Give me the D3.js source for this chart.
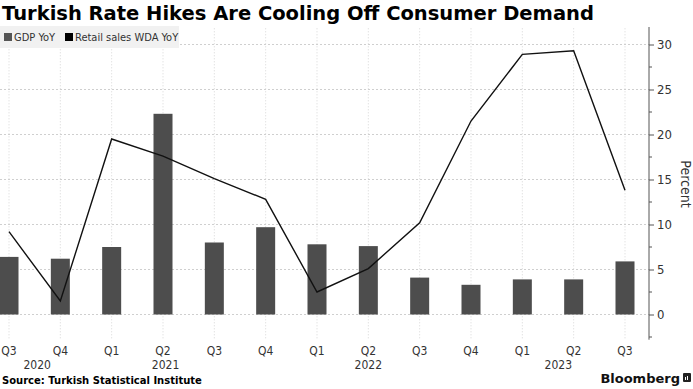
<!DOCTYPE html>
<html><head><meta charset="utf-8">
<script src="https://cdn.jsdelivr.net/npm/d3@7/dist/d3.min.js"></script>
<style>body{margin:0;background:#fff}svg{display:block}</style>
</head><body>
<svg id="chart" width="693" height="389"></svg>
<script>
const quarters = ["Q3","Q4","Q1","Q2","Q3","Q4","Q1","Q2","Q3","Q4","Q1","Q2","Q3"];
const gdpYoY = [6.4, 6.2, 7.5, 22.3, 8.0, 9.7, 7.8, 7.6, 4.1, 3.3, 3.9, 3.9, 5.9];
const retailYoY = [9.2, 1.5, 19.5, 17.6, 15.1, 12.8, 2.5, 5.1, 10.2, 21.5, 28.9, 29.3, 13.8];
const years = ["2020","2021","2022","2023"];
const yearPos = [0.55, 3.05, 7.0, 10.7];
const yTicks = [0,5,10,15,20,25,30];
const yMinor = [-2.5,2.5,7.5,12.5,17.5,22.5,27.5];

const svg = d3.select("#chart");
const font = "'DejaVu Sans Condensed','DejaVu Sans',sans-serif";
const x = d3.scaleLinear().domain([0, quarters.length-1]).range([9, 625]);
const y = d3.scaleLinear().domain([-2.8, 31.8]).range([339.7, 28.3]);
const axisX = 649;

// gridlines
svg.append("g").selectAll("line").data(quarters).join("line")
  .attr("x1",(d,i)=>x(i)).attr("x2",(d,i)=>x(i))
  .attr("y1",y(31.8)).attr("y2",y(-2.8))
  .attr("stroke","#d6d6d6").attr("stroke-width",1).attr("stroke-dasharray","1,2");
svg.append("g").selectAll("line").data(yTicks).join("line")
  .attr("x1",0).attr("x2",axisX)
  .attr("y1",d=>y(d)).attr("y2",d=>y(d))
  .attr("stroke","#cfcfcf").attr("stroke-width",1).attr("stroke-dasharray","2,2");

// bars
const bw = 19;
svg.append("g").selectAll("rect").data(gdpYoY).join("rect")
  .attr("x",(d,i)=>x(i)-bw/2).attr("width",bw)
  .attr("y",d=>y(d)).attr("height",d=>y(0)-y(d))
  .attr("fill","#4d4d4d");

// line
svg.append("path").datum(retailYoY)
  .attr("d", d3.line().x((d,i)=>x(i)).y(d=>y(d)))
  .attr("fill","none").attr("stroke","#111").attr("stroke-width",1.4);

// y axis
const yAxis = d3.axisRight(y).tickValues(yTicks).tickSize(5).tickPadding(3);
const ga = svg.append("g").attr("transform",`translate(${axisX},0)`).call(yAxis);
ga.select(".domain").remove();
ga.append("line").attr("x1",0).attr("x2",0).attr("y1",27).attr("y2",y(-2.8)).attr("stroke","#555");
ga.selectAll(".tick line").attr("stroke","#555");
ga.selectAll(".tick text").attr("fill","#333").style("font-family",font).style("font-size","13px");
ga.append("g").selectAll("line").data(yMinor).join("line")
  .attr("x1",0).attr("x2",3).attr("y1",d=>y(d)).attr("y2",d=>y(d)).attr("stroke","#555");

svg.append("text").attr("transform","translate(681,184) rotate(90)")
  .attr("text-anchor","middle").attr("fill","#333")
  .style("font-family",font).style("font-size","14px").text("Percent");

// x labels
svg.append("g").selectAll("text").data(quarters).join("text")
  .attr("x",(d,i)=>x(i)).attr("y",355).attr("text-anchor","middle")
  .attr("fill","#333").style("font-family",font).style("font-size","12px").text(d=>d);
svg.append("g").selectAll("text").data(years).join("text")
  .attr("x",(d,i)=>x(yearPos[i])).attr("y",369).attr("text-anchor","middle")
  .attr("fill","#333").style("font-family",font).style("font-size","12px").text(d=>d);

// legend
svg.append("rect").attr("x",0).attr("y",26).attr("width",179).attr("height",22).attr("fill","#f1f1f1");
svg.append("rect").attr("x",4).attr("y",33).attr("width",8).attr("height",8).attr("fill","#555");
svg.append("text").attr("x",14).attr("y",41).attr("fill","#333").style("font-family",font).style("font-size","11px").text("GDP YoY");
svg.append("rect").attr("x",65).attr("y",33).attr("width",8).attr("height",8).attr("fill","#000");
svg.append("text").attr("x",75).attr("y",41).attr("fill","#333").style("font-family",font).style("font-size","11px").text("Retail sales WDA YoY");

// title
const title = svg.append("text").attr("x",2).attr("y",20).attr("fill","#000")
  .style("font-family","'DejaVu Sans',sans-serif").style("font-weight","bold").style("font-size","19px")
  .text("Turkish Rate Hikes Are Cooling Off Consumer Demand");
const tw = title.node().getComputedTextLength();
title.style("font-size", (19*592/tw).toFixed(2)+"px");

// source
const src = svg.append("text").attr("x",2).attr("y",384).attr("fill","#000")
  .style("font-family","'DejaVu Sans',sans-serif").style("font-weight","bold").style("font-size","11px")
  .text("Source: Turkish Statistical Institute");
const sw = src.node().getComputedTextLength();
src.style("font-size",(11*200/sw).toFixed(2)+"px");

// Bloomberg
const bb = svg.append("text").attr("x",680).attr("y",383).attr("text-anchor","end").attr("fill","#111")
  .style("font-family","'DejaVu Sans',sans-serif").style("font-weight","bold").style("font-size","13px")
  .text("Bloomberg");
svg.append("rect").attr("x",683).attr("y",373).attr("width",8).attr("height",9).attr("rx",1).attr("fill","#222");
svg.append("rect").attr("x",685).attr("y",377).attr("width",1).attr("height",3).attr("fill","#fff");
svg.append("rect").attr("x",687).attr("y",376).attr("width",1).attr("height",4).attr("fill","#fff");
</script>
</body></html>
